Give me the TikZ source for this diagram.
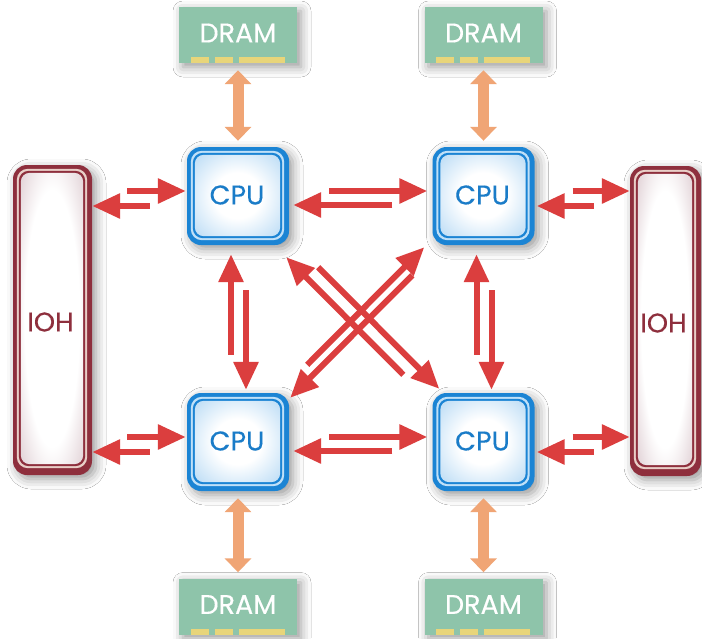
\documentclass[tikz,border=0pt]{standalone}
\usepackage{fontspec}
\newfontfamily\labelfont[FakeBold=0.4]{Poppins}
\usetikzlibrary{arrows.meta,calc,shadows.blur}

\definecolor{cpuedge}{HTML}{1B84D4}
\definecolor{cpuring}{HTML}{BFE0F8}
\definecolor{cpuface}{HTML}{A6D1F2}
\definecolor{cpudeep}{HTML}{84BEEA}
\definecolor{cputext}{HTML}{1A7CC8}
\definecolor{iohedge}{HTML}{8E2F3D}
\definecolor{iohring}{HTML}{E9CFC8}
\definecolor{iohface}{HTML}{CFB6BD}
\definecolor{iohdeep}{HTML}{B08E97}
\definecolor{dramfill}{HTML}{8EC4AA}
\definecolor{dramgold}{HTML}{E8D57A}
\definecolor{linkred}{HTML}{DB3E3E}
\definecolor{memorange}{HTML}{F0A575}

% cushion-like faces: white centre fading to the tint near the rim
\pgfdeclareradialshading{cpushade}{\pgfpoint{0bp}{0bp}}{%
  color(0bp)=(white); color(14bp)=(white); color(42bp)=(cpuface); color(72bp)=(cpudeep)}
\pgfdeclareradialshading{iohshade}{\pgfpoint{0bp}{0bp}}{%
  color(0bp)=(white); color(22bp)=(white); color(44bp)=(iohface); color(72bp)=(iohdeep)}

\tikzset{
  softshadow/.style={blur shadow={shadow xshift=4pt, shadow yshift=-4pt,
      shadow blur radius=10pt, shadow opacity=40}},
  cpubase/.style={rectangle, rounded corners=14pt, fill=cpuedge, inner sep=0pt,
      minimum width=102pt, minimum height=98pt, softshadow},
  iohbase/.style={rectangle, rounded corners=14pt, fill=iohedge, inner sep=0pt,
      minimum height=310pt, softshadow},
  drambase/.style={rectangle, fill=dramfill, inner sep=0pt,
      minimum width=118pt, minimum height=56pt, softshadow},
  labeltext/.style={font=\labelfont\fontsize{27}{27}\selectfont, inner sep=0pt},
  cpulabel/.style={labeltext, text=cputext},
  iohlabel/.style={labeltext, text=iohedge},
  dramlabel/.style={labeltext, text=white},
  redlink/.style={draw=linkred, line width=6pt, -{Triangle[length=28pt,width=24pt]}},
  memlink/.style={draw=memorange, line width=11pt,
      {Triangle[length=14pt,width=26pt]}-{Triangle[length=14pt,width=26pt]}},
}

% processor chip: blue rim, light ring, thin blue line, shaded face
\newcommand\cpuchip[3]{%
  \node[cpubase] (#1) at (#2,#3) {};
  \fill[cpuring, rounded corners=11pt] ($(#1.north west)+(4,4)$) rectangle ($(#1.south east)+(-5,-5)$);
  \fill[cpuedge, rounded corners=10pt] ($(#1.north west)+(6,6)$) rectangle ($(#1.south east)+(-7,-7)$);
  \shade[shading=cpushade, rounded corners=9pt] ($(#1.north west)+(8,8)$) rectangle ($(#1.south east)+(-9,-9)$);
  \node[cpulabel] (#1-t) at ($(#1)+(-1,-1)$) {CPU};
}
% I/O hub: tall dark red frame, heavier along the bottom
\newcommand\iohub[4]{%
  \node[iohbase, minimum width=#4pt] (#1) at (#2,#3) {};
  \fill[iohring, rounded corners=11pt] ($(#1.north west)+(4,4)$) rectangle ($(#1.south east)+(-5,-7)$);
  \fill[iohedge, rounded corners=10pt] ($(#1.north west)+(6,6)$) rectangle ($(#1.south east)+(-7,-9)$);
  \shade[shading=iohshade, rounded corners=9pt] ($(#1.north west)+(8,8)$) rectangle ($(#1.south east)+(-9,-11)$);
  \node[iohlabel] (#1-t) at ($(#1)+(-2,2)$) {IOH};
}
% memory module with contact strips along the lower edge
\newcommand\dram[3]{%
  \node[drambase] (#1) at (#2,#3) {};
  \fill[dramgold] ($(#1.south west)+(12,-6)$) rectangle ($(#1.south west)+(30,0)$);
  \fill[dramgold] ($(#1.south west)+(36,-6)$) rectangle ($(#1.south west)+(54,0)$);
  \fill[dramgold] ($(#1.south west)+(60,-6)$) rectangle ($(#1.south west)+(106,0)$);
  \node[dramlabel] (#1-t) at ($(#1)+(0,-2)$) {DRAM};
}

\begin{document}
\begin{tikzpicture}[x=1pt, y=-1pt]
  \fill[white] (0,0) rectangle (702,638);
  \useasboundingbox (0,0) rectangle (702,638);

  % memory modules
  \dram{d1}{238}{35}
  \dram{d2}{483.5}{35}
  \dram{d3}{238}{606.5}
  \dram{d4}{483.5}{606.5}

  % I/O hubs
  \iohub{ioh1}{52.5}{320}{79}
  \iohub{ioh2}{665.5}{321}{71}

  % processors
  \cpuchip{cpu1}{238}{196}
  \cpuchip{cpu2}{483.5}{196}
  \cpuchip{cpu3}{238}{442}
  \cpuchip{cpu4}{483.5}{442}

  % memory links
  \draw[memlink] ($(d1.south)+(0,7)$) -- ($(cpu1.north)+(0,-6)$);
  \draw[memlink] ($(d2.south)+(0,7)$) -- ($(cpu2.north)+(0,-6)$);
  \draw[memlink] ($(cpu3.south)+(0,7)$) -- ($(d3.north)+(0,-6)$);
  \draw[memlink] ($(cpu4.south)+(0,7)$) -- ($(d4.north)+(0,-6)$);

  % hub links, upper row
  \draw[redlink] ($(ioh1.east |- cpu1.west)+(35,-5)$) -- ($(cpu1.west)+(-1,-5)$);
  \draw[redlink] ($(cpu1.west)+(-37,10)$) -- ($(ioh1.east |- cpu1.west)+(0,10)$);
  \draw[redlink] ($(cpu2.east)+(38,-5)$) -- ($(ioh2.west |- cpu2.east)+(0,-5)$);
  \draw[redlink] ($(ioh2.west |- cpu2.east)+(-36,10)$) -- ($(cpu2.east)+(2,10)$);
  % hub links, lower row
  \draw[redlink] ($(ioh1.east |- cpu3.west)+(35,-5)$) -- ($(cpu3.west)+(-1,-5)$);
  \draw[redlink] ($(cpu3.west)+(-37,10)$) -- ($(ioh1.east |- cpu3.west)+(0,10)$);
  \draw[redlink] ($(cpu4.east)+(38,-5)$) -- ($(ioh2.west |- cpu4.east)+(0,-5)$);
  \draw[redlink] ($(ioh2.west |- cpu4.east)+(-36,10)$) -- ($(cpu4.east)+(2,10)$);

  % processor links, horizontal
  \draw[redlink] ($(cpu1.east)+(40,-5)$) -- ($(cpu2.west)+(-5,-5)$);
  \draw[redlink] ($(cpu2.west)+(-40,9)$) -- ($(cpu1.east)+(4,9)$);
  \draw[redlink] ($(cpu3.east)+(40,-5)$) -- ($(cpu4.west)+(-5,-5)$);
  \draw[redlink] ($(cpu4.west)+(-40,9)$) -- ($(cpu3.east)+(4,9)$);

  % processor links, vertical
  \draw[redlink] ($(cpu3.north)+(-7,-38)$) -- ($(cpu1.south)+(-7,9)$);
  \draw[redlink] ($(cpu1.south)+(8,45)$) -- ($(cpu3.north)+(8,-3)$);
  \draw[redlink] ($(cpu4.north)+(-7,-38)$) -- ($(cpu2.south)+(-7,9)$);
  \draw[redlink] ($(cpu2.south)+(8,45)$) -- ($(cpu4.north)+(8,-3)$);

  % processor links, diagonal
  \draw[redlink] ($(cpu4.north west)+(-29,-18)$) -- ($(cpu1.south east)+(-3,12)$);
  \draw[redlink] ($(cpu1.south east)+(29,22)$) -- ($(cpu4.north west)+(7,-4)$);
  \draw[redlink] ($(cpu3.north east)+(18,-28)$) -- ($(cpu2.south west)+(-8,2)$);
  \draw[redlink] ($(cpu2.south west)+(-20,30)$) -- ($(cpu3.north east)+(1,5)$);
\end{tikzpicture}
\end{document}
